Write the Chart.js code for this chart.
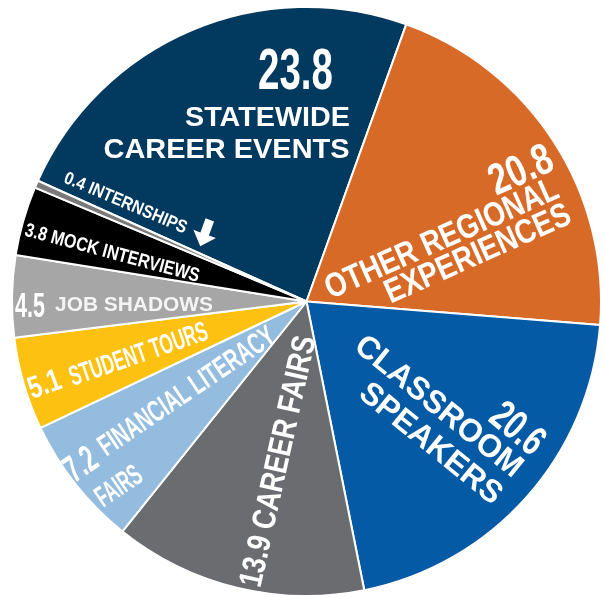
<!DOCTYPE html>
<html>
<head>
<meta charset="utf-8">
<script src="https://cdn.jsdelivr.net/npm/chart.js@4.4.1/dist/chart.umd.min.js"></script>
<style>
  html, body { margin: 0; padding: 0; background: #fff; }
  #wrap { width: 605px; height: 597px; }
</style>
</head>
<body>
<div id="wrap"><canvas id="pie" width="605" height="597"></canvas></div>
<script>
// ── data ──────────────────────────────────────────
// '|' marks where a name breaks onto a second line
const categories = ['STATEWIDE|CAREER EVENTS', 'OTHER REGIONAL|EXPERIENCES', 'CLASSROOM|SPEAKERS',
                    'CAREER FAIRS', 'FINANCIAL LITERACY|FAIRS', 'STUDENT TOURS', 'JOB SHADOWS',
                    'MOCK INTERVIEWS', 'INTERNSHIPS'];
const values     = [23.8, 20.8, 20.6, 13.9, 7.2, 5.1, 4.5, 3.8, 0.4];
const colors     = ['#02395E', '#D86A27', '#045AA4', '#6B6C70', '#94BCDF', '#FDC111', '#A6A6A6', '#000000', '#7A7A7A'];

// ── label layout ───────────────────────────────────
// [slice, part, x, y, angle(deg), font px, text length px]
// part: 'v' = value, 0/1 = name line, 'v0' = value + first name line
const labelLayout = [
  [0, 'v',  295.5, 68.5,   0,   57, 75],
  [0, 0,    267.5, 115.5,  0,   28, 165],
  [0, 1,    226.5, 147.5,  0,   28.5, 246],

  [1, 'v',  520,   168,  -24,   44, 66],
  [1, 0,    441,   237,  -24,   34, 252],
  [1, 1,    477,   252,  -24,   34, 200],

  [2, 'v',  519,   427,   40,   42, 58],
  [2, 0,    440,   405,   39,   32, 206],
  [2, 1,    432,   442,   39,   32, 174],

  [3, 'v0', 276.5, 461,  -77.5, 33, 256],

  [4, 'v',  80,    463,  -34,   38, 32],
  [4, 0,    186,   390,  -34,   30, 207],
  [4, 1,    118,   485,  -34,   30, 50],

  [5, 'v',  44,    383,  -20,   31, 33],
  [5, 0,    138,   353,  -19,   28, 145],

  [6, 'v',  30,    304,    0,   35, 30],
  [6, 0,    134,   303.5,  0,   21, 158],

  [7, 'v0', 112.5, 252,   15,   19.5, 180],
  [8, 'v0', 126,   202,   23,   18, 132]
];
const FONT = '"Liberation Sans", Arial, sans-serif';

function labelText(slice, part) {
  const lines = categories[slice].split('|');
  if (part === 'v')  return String(values[slice]);
  if (part === 'v0') return values[slice] + ' ' + lines[0];
  return lines[part];
}

const sliceLabels = {
  id: 'sliceLabels',
  afterDraw(chart) {
    const ctx = chart.ctx;
    ctx.save();
    ctx.fillStyle = '#fff';
    ctx.textAlign = 'center';
    ctx.textBaseline = 'alphabetic';
    labelLayout.forEach(([slice, part, x, y, ang, size, len]) => {
      const txt = labelText(slice, part);
      ctx.save();
      ctx.font = `bold ${size}px ${FONT}`;
      const w = ctx.measureText(txt).width;
      ctx.translate(x, y);
      ctx.rotate(ang * Math.PI / 180);
      ctx.scale(len / w, 1);
      ctx.fillStyle = slice === 6 && part === 0 ? '#F4F4F4' : '#FFFFFF';
      ctx.fillText(txt, 0, size * 0.358);
      ctx.restore();
    });

    // arrow pointing at the thin internships slice
    ctx.translate(205, 233);
    ctx.rotate(20 * Math.PI / 180);
    ctx.beginPath();
    ctx.moveTo(-4.5, -14);
    ctx.lineTo(4.5, -14);
    ctx.lineTo(4.5, 1);
    ctx.lineTo(12, 1);
    ctx.lineTo(0, 14);
    ctx.lineTo(-12, 1);
    ctx.lineTo(-4.5, 1);
    ctx.closePath();
    ctx.fill();
    ctx.restore();
  }
};

new Chart(document.getElementById('pie'), {
  type: 'pie',
  data: {
    labels: categories.map(c => c.replace('|', ' ')),
    datasets: [{
      data: values,
      backgroundColor: colors,
      borderColor: '#FFFFFF',
      borderWidth: 2
    }]
  },
  options: {
    responsive: false,
    animation: false,
    rotation: -65.8,
    layout: { padding: { top: 6, left: 9, right: 1, bottom: 0 } },
    plugins: {
      legend: { display: false },
      tooltip: { enabled: false }
    }
  },
  plugins: [sliceLabels]
});
</script>
</body>
</html>
